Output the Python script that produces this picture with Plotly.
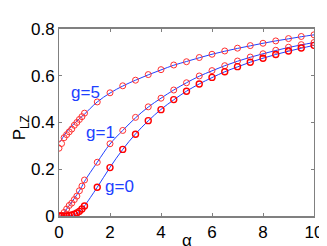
import plotly.graph_objects as go

alpha = [0, 0.1, 0.2, 0.3, 0.4, 0.5, 0.6, 0.7, 0.8, 0.9, 1.0,
         1.5, 2, 2.5, 3, 3.5, 4, 4.5, 5, 5.5, 6, 6.5, 7, 7.5, 8, 8.5, 9, 9.5, 10]

# numerical points (circles)
pts_g5 = [0.29, 0.31, 0.335, 0.348, 0.36, 0.372, 0.388, 0.40, 0.413, 0.425, 0.44,
          0.488, 0.527, 0.557, 0.581, 0.605, 0.626, 0.646, 0.660, 0.678, 0.692, 0.706, 0.718,
          0.729, 0.739, 0.749, 0.759, 0.768, 0.775]
pts_g1 = [0.0, 0.003, 0.015, 0.03, 0.045, 0.055, 0.07, 0.085, 0.108, 0.128, 0.154,
          0.230, 0.309, 0.366, 0.422, 0.467, 0.504, 0.539, 0.570, 0.599, 0.622, 0.643, 0.663,
          0.680, 0.694, 0.709, 0.722, 0.733, 0.742]
pts_g0 = [0.0, 0.0, 0.0, 0.0, 0.002, 0.004, 0.008, 0.013, 0.02, 0.03, 0.043,
          0.123, 0.207, 0.285, 0.350, 0.408, 0.455, 0.498, 0.534, 0.565, 0.593, 0.617, 0.639,
          0.658, 0.675, 0.691, 0.706, 0.719, 0.730]

# analytic curves (blue lines)
line_alpha_g5 = [0.05, 0.1, 0.2, 0.3, 0.4, 0.5, 0.6, 0.7, 0.8, 0.9, 1.0,
                 1.5, 2, 2.5, 3, 3.5, 4, 4.5, 5, 5.5, 6, 6.5, 7, 7.5, 8, 8.5, 9, 9.5, 10]
line_g5 = [0.318, 0.327, 0.345, 0.36, 0.373, 0.385, 0.396, 0.406, 0.416, 0.426, 0.436,
           0.488, 0.526, 0.556, 0.581, 0.604, 0.625, 0.645, 0.661, 0.677, 0.692, 0.705, 0.717,
           0.728, 0.739, 0.749, 0.758, 0.767, 0.775]
line_alpha_g1 = [0.12, 0.2, 0.3, 0.4, 0.5, 0.6, 0.7, 0.8, 0.9, 1.0,
                 1.5, 2, 2.5, 3, 3.5, 4, 4.5, 5, 5.5, 6, 6.5, 7, 7.5, 8, 8.5, 9, 9.5, 10]
line_g1 = [0.0, 0.014, 0.03, 0.045, 0.06, 0.075, 0.091, 0.108, 0.127, 0.148,
           0.230, 0.308, 0.366, 0.420, 0.466, 0.504, 0.539, 0.570, 0.598, 0.621, 0.643, 0.662,
           0.679, 0.694, 0.708, 0.721, 0.732, 0.742]
line_alpha_g0 = alpha
line_g0 = [0.0, 0.0, 0.0, 0.0, 0.0004, 0.002, 0.005, 0.011, 0.02, 0.03, 0.043,
           0.123, 0.208, 0.285, 0.351, 0.407, 0.456, 0.497, 0.534, 0.565, 0.592, 0.617, 0.638,
           0.658, 0.675, 0.691, 0.705, 0.718, 0.730]

labels = ["g=5", "g=1", "g=0"]
label_x = [1.03, 1.63, 2.39]
label_y = [0.53, 0.358, 0.125]

x_ticks = [0, 2, 4, 6, 8, 10]
y_ticks = [0, 0.2, 0.4, 0.6, 0.8]
y_tick_text = ["0", "0.2", "0.4", "0.6", "0.8"]

BLUE = "#2040ff"
RED = "#ff0000"
FONT = "Liberation Sans"

fig = go.Figure()
for lx, ly in [(line_alpha_g5, line_g5), (line_alpha_g1, line_g1), (line_alpha_g0, line_g0)]:
    fig.add_trace(go.Scatter(x=lx, y=ly, mode="lines", line=dict(color=BLUE, width=1, shape="spline"),
                             hoverinfo="skip"))
for py, w, c in [(pts_g5, 1, "#ff3030"), (pts_g1, 1, "#ff3030"), (pts_g0, 1.4, RED)]:
    fig.add_trace(go.Scatter(x=alpha, y=py, mode="markers",
                             marker=dict(symbol="circle-open", size=6, color=c, line=dict(width=w, color=c))))

for t, x, y in zip(labels, label_x, label_y):
    fig.add_annotation(x=x, y=y, text=t, showarrow=False, xref="x", yref="y",
                       font=dict(size=17, color=BLUE, family=FONT))

fig.add_annotation(x=0.5, y=-0.13, xref="paper", yref="paper", text="α", showarrow=False,
                   xanchor="center", yanchor="middle", borderpad=0,
                   font=dict(size=17, color="black", family=FONT))
fig.add_annotation(x=-0.148, y=0.47, xref="paper", yref="paper", text="P<sub>LZ</sub>", showarrow=False,
                   xanchor="center", yanchor="middle", textangle=-90, borderpad=0,
                   font=dict(size=17, color="black", family=FONT))

axis_common = dict(showline=True, linecolor="#808080", mirror="ticks", ticks="inside", ticklen=3,
                   tickcolor="#808080", showgrid=False, zeroline=False,
                   tickfont=dict(size=17, color="black", family=FONT))
fig.update_xaxes(range=[0, 10], tickvals=x_ticks, linewidth=1.5, **axis_common)
fig.update_yaxes(range=[0, 0.8], tickvals=y_ticks, ticktext=y_tick_text, linewidth=1, **axis_common)

fig.update_layout(width=327, height=246, margin=dict(l=51, r=15, t=12, b=32),
                  paper_bgcolor="white", plot_bgcolor="white", showlegend=False)
fig.write_html("out.html")
